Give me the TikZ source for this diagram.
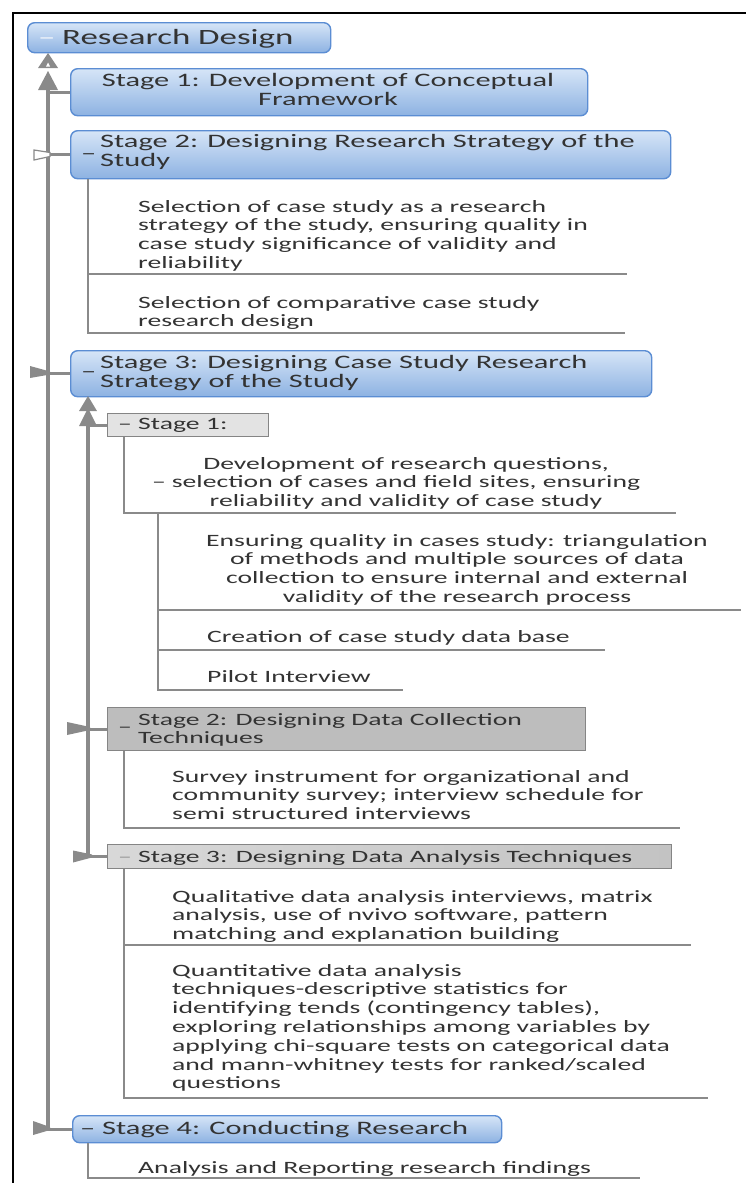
\documentclass[tikz,border=0pt]{standalone}
\usepackage{fontspec}
\setmainfont{Carlito}[FakeStretch=1.6]
\usetikzlibrary{calc}
\definecolor{txt}{HTML}{333333}
\definecolor{conn}{HTML}{8A8A8A}
\definecolor{blueTop}{HTML}{D6E5F7}
\definecolor{blueBot}{HTML}{8DB2E2}
\definecolor{blueEdge}{HTML}{5B8DD3}
\definecolor{grayEdge}{HTML}{858585}
\definecolor{grayA}{HTML}{E3E3E3}
\definecolor{grayB}{HTML}{BDBDBD}
\definecolor{grayCl}{HTML}{D8D8D8}
\definecolor{grayCr}{HTML}{C3C3C3}
\definecolor{dashW}{HTML}{EEF3FA}
\definecolor{dashG}{HTML}{9A9A9A}
\newcommand{\bodyfs}{\fontsize{17.3}{18.8}\selectfont}
\newcommand{\headfs}{\fontsize{19.0}{19.5}\selectfont}
\newcommand{\titlefs}{\fontsize{21.8}{24}\selectfont}
\newcommand{\blk}[2]{\begin{tabular}[t]{@{}#1@{}}#2\end{tabular}}
\begin{document}
\begin{tikzpicture}[x=1pt,y=-1pt,
  txtnode/.style={inner sep=0pt, text=txt, anchor=base west, font=\bodyfs},
  ctrnode/.style={inner sep=0pt, text=txt, anchor=base, font=\bodyfs},
  bluebox/.style={draw=blueEdge, line width=1.4pt, rounded corners=7pt, top color=blueTop, bottom color=blueBot, inner sep=0pt, anchor=north west},
  graybox/.style={draw=grayEdge, line width=1.2pt, inner sep=0pt, anchor=north west},
  spine/.style={draw=conn, line width=3.2pt},
  treeline/.style={draw=conn, line width=2.2pt},
  tipshape/.style={fill=conn, draw=none},
]
\useasboundingbox (0,0) rectangle (746,1183);
\fill[white] (0,0) rectangle (746,1183);
% frame
\draw[line width=2pt, black] (13,1183) -- (13,13) -- (746,13);

% ---------- boxes ----------
\node[bluebox, minimum width=303pt, minimum height=30pt] (rd) at (27,22) {};
\node[bluebox, minimum width=517pt, minimum height=47pt] (s1) at (70,68) {};
\node[bluebox, minimum width=600pt, minimum height=48pt] (s2) at (70,130) {};
\node[bluebox, minimum width=581pt, minimum height=46pt] (s3) at (70,350) {};
\node[bluebox, minimum width=429pt, minimum height=27pt] (s4) at (72,1115) {};
\node[graybox, fill=grayA, minimum width=161pt, minimum height=23pt] (g1) at (107,413) {};
\node[graybox, fill=grayB, minimum width=478pt, minimum height=43pt] (g2) at (107,707) {};
\node[graybox, left color=grayCl, right color=grayCr, minimum width=564pt, minimum height=24pt] (g3) at (107,844) {};

% ---------- spine connectors ----------
\coordinate (spTop) at (48,88);
\draw[spine] (spTop) |- (s4.west);
\draw[spine] (spTop |- s1.west) -- (s1.west);
\draw[spine] (spTop |- s2.west) -- (s2.west);
\draw[spine] (spTop |- s3.west) -- (s3.west);
\fill[tipshape] (38,68) -- (48,53) -- (58,68) -- cycle;
\fill[white] (46,66.5) -- (48,62.5) -- (50,66.5) -- cycle;
\fill[tipshape] (38,90) -- (48,71) -- (58,90) -- cycle;
\filldraw[fill=white, draw=conn, line width=1.2pt] (34,150) -- (34,160) -- (50,156.5) -- (50,152.5) -- cycle;
\fill[tipshape] (30,366) -- (30,378) -- (50,374.5) -- (50,371.5) -- cycle;
\fill[tipshape] (33,1121) -- (33,1135) -- (50,1130) -- (50,1127) -- cycle;

\coordinate (sp2Top) at (88,423);
\draw[spine] (sp2Top) |- (g3.west);
\draw[spine] (sp2Top |- g1.west) -- (g1.west);
\draw[spine] (sp2Top |- g2.west) -- (g2.west);
\fill[tipshape] (79,411) -- (88,396) -- (97,411) -- cycle;
\fill[tipshape] (79,426) -- (88,408) -- (97,426) -- cycle;
\fill[tipshape] (67,722) -- (67,735) -- (90,730) -- (90,727) -- cycle;
\fill[tipshape] (73,850.5) -- (73,862.5) -- (92,857.5) -- (92,854.5) -- cycle;

% ---------- tree lines ----------
\coordinate (a1) at (627,274);
\coordinate (a2) at (625,333);
\draw[treeline] ([xshift=18pt]s2.south west) |- (a2);
\draw[treeline] ([xshift=18pt]s2.south west |- a1) -- (a1);

\coordinate (b0) at (676,513);
\draw[treeline] ([xshift=17pt]g1.south west) |- (b0);
\coordinate (b1) at (741,610);
\coordinate (b2) at (605,650);
\coordinate (b3) at (403,690);
\coordinate (bTop) at (158,513);
\draw[treeline] (bTop) |- (b3);
\draw[treeline] (bTop |- b1) -- (b1);
\draw[treeline] (bTop |- b2) -- (b2);

\coordinate (c1) at (680,828);
\draw[treeline] ([xshift=17pt]g2.south west) |- (c1);

\coordinate (d1) at (691,945);
\coordinate (d2) at (708,1098);
\draw[treeline] ([xshift=17pt]g3.south west) |- (d2);
\draw[treeline] ([xshift=17pt]g3.south west |- d1) -- (d1);

\coordinate (e1) at (640,1178);
\draw[treeline] ([xshift=16pt]s4.south west) |- (e1);

% ---------- texts ----------
\node[txtnode, font=\titlefs, text=dashW] (rdDash) at (38,44) {–};
\node[txtnode, font=\titlefs] (rdT) at (62,44) {Research Design};

\node[ctrnode, font=\headfs] (s1T) at (328,86) {\blk{c}{Stage 1: Development of Conceptual\\Framework}};

\node[txtnode, font=\headfs] (s2D) at (81,159) {–};
\node[txtnode, font=\headfs] (s2T) at (100,147) {\blk{l}{Stage 2: Designing Research Strategy of the\\Study}};

\node[txtnode] (t1) at (138,212) {\blk{l}{Selection of case study as a research\\strategy of the study, ensuring quality in\\case study significance of validity and\\reliability}};
\node[txtnode] (t2) at (138,308) {\blk{l}{Selection of comparative case study\\research design}};

\node[txtnode, font=\headfs] (s3D) at (81,377) {–};
\node[txtnode, font=\headfs] (s3T) at (100,368) {\blk{l}{Stage 3: Designing Case Study Research\\Strategy of the Study}};

\node[txtnode] (g1T) at (118,429) {– Stage 1:};

\node[ctrnode] (t3) at (406,469) {\blk{c}{Development of research questions,\\selection of cases and field sites, ensuring\\reliability and validity of case study}};
\node[txtnode] (t3D) at (152,487.8) {–};
\node[ctrnode] (t4) at (457,546) {\blk{c}{Ensuring quality in cases study: triangulation\\of methods and multiple sources of data\\collection to ensure internal and external\\validity of the research process}};
\node[txtnode] (t5) at (207,642) {Creation of case study data base};
\node[txtnode] (t6) at (207,682) {Pilot Interview};

\node[txtnode] (g2D) at (118,732) {–};
\node[txtnode] (g2T) at (138,725) {\blk{l}{Stage 2: Designing Data Collection\\Techniques}};
\node[txtnode] (t7) at (172,782) {\blk{l}{Survey instrument for organizational and\\community survey; interview schedule for\\semi structured interviews}};

\node[txtnode] (g3T) at (118,862) {\textcolor{dashG}{–} Stage 3: Designing Data Analysis Techniques};
\node[txtnode] (t8) at (172,902) {\blk{l}{Qualitative data analysis interviews, matrix\\analysis, use of nvivo software, pattern\\matching and explanation building}};
\node[txtnode] (t9) at (172,976) {\blk{l}{Quantitative data analysis\\techniques-descriptive statistics for\\identifying tends (contingency tables),\\exploring relationships among variables by\\applying chi-square tests on categorical data\\and mann-whitney tests for ranked/scaled\\questions}};

\node[txtnode, font=\headfs] (s4T) at (80,1134) {– Stage 4: Conducting Research};
\node[txtnode] (t10) at (138,1173) {Analysis and Reporting research findings};
\end{tikzpicture}
\end{document}
